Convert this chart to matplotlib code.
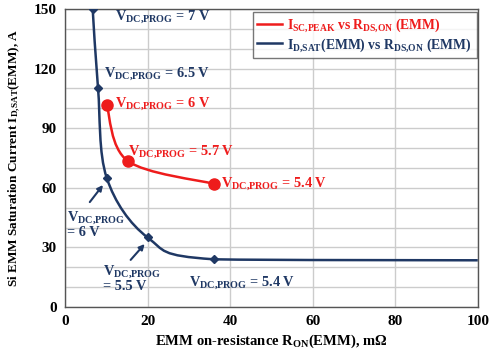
import numpy as np
import matplotlib
matplotlib.use("Agg")
import matplotlib.pyplot as plt
from matplotlib.path import Path
from matplotlib.patches import PathPatch
from matplotlib.ticker import MultipleLocator

plt.rcParams['font.family'] = ['Liberation Serif', 'DejaVu Serif']
plt.rcParams['font.weight'] = 'bold'
plt.rcParams['axes.labelweight'] = 'bold'
plt.rcParams['mathtext.fontset'] = 'custom'
plt.rcParams['mathtext.rm'] = 'Liberation Serif:bold'
plt.rcParams['mathtext.it'] = 'Liberation Serif:bold'
plt.rcParams['mathtext.bf'] = 'Liberation Serif:bold'

# data
r_sat = [6.7, 8.0, 10.1, 20.0, 36.0, 100.0]
i_sat = [150, 110, 65, 35, 24, 23.5]
r_peak = [10.1, 15.2, 36.0]
i_peak = [101.5, 73.5, 62]

RED = "#ee1c1c"
NAVY = "#1f3864"


def smooth_path(xs, ys, ax):
    # Catmull-Rom -> cubic bezier in screen space, control points kept inside
    # each segment's y range so the curve doesn't overshoot
    pts = ax.transData.transform(np.column_stack([xs, ys]))
    verts = [pts[0]]
    codes = [Path.MOVETO]
    n = len(pts)
    for i in range(n - 1):
        p0 = pts[i - 1] if i > 0 else pts[i]
        p1, p2 = pts[i], pts[i + 1]
        p3 = pts[i + 2] if i + 2 < n else pts[i + 1]
        c1 = p1 + (p2 - p0) / 6.0
        c2 = p2 - (p3 - p1) / 6.0
        lo, hi = min(p1[1], p2[1]), max(p1[1], p2[1])
        c1[1] = np.clip(c1[1], lo, hi)
        c2[1] = np.clip(c2[1], lo, hi)
        verts += [c1, c2, p2]
        codes += [Path.CURVE4] * 3
    verts = ax.transData.inverted().transform(np.array(verts))
    return Path(verts, codes)


fig = plt.figure(figsize=(4.9, 3.58), dpi=100)
ax = fig.add_axes([0.1327, 0.1425, 0.8423, 0.8325])
ax.set_xlim(0, 100)
ax.set_ylim(0, 150)
ax.xaxis.set_major_locator(MultipleLocator(20))
ax.yaxis.set_major_locator(MultipleLocator(30))
ax.yaxis.set_minor_locator(MultipleLocator(10))
ax.grid(True, which='both', color='#cccccc', lw=1.0)
ax.set_axisbelow(True)
ax.tick_params(which='both', length=0, labelsize=11, pad=6)
for s in ax.spines.values():
    s.set_color('#555555')
    s.set_linewidth(1.0)

ax.add_patch(PathPatch(smooth_path(r_sat, i_sat, ax), fc='none', ec=NAVY, lw=1.8, zorder=3))
ax.add_patch(PathPatch(smooth_path(r_peak, i_peak, ax), fc='none', ec=RED, lw=1.8, zorder=3))
ax.plot(r_sat[:-1], i_sat[:-1], ls='none', marker='D', ms=4.5, color=NAVY, zorder=4)
ax.plot(r_peak, i_peak, ls='none', marker='o', ms=8, color=RED, zorder=4)

# legend proxies
ax.plot([], [], color=RED, lw=1.8, label=r"I$_{\mathrm{SC{,}PEAK}}$ vs R$_{\mathrm{DS{,}ON}}$ (EMM)")
ax.plot([], [], color=NAVY, lw=1.8, label=r"I$_{\mathrm{D{,}SAT}}$(EMM) vs R$_{\mathrm{DS{,}ON}}$ (EMM)")
leg = ax.legend(loc='upper right', bbox_to_anchor=(0.997, 0.99), fontsize=9.8, frameon=True,
                fancybox=False, edgecolor='#555555', handlelength=1.8, handletextpad=0.4,
                borderpad=0.35, labelspacing=0.15, borderaxespad=0)
leg.get_frame().set_linewidth(1.0)
leg.texts[0].set_color(RED)
leg.texts[1].set_color(NAVY)

V = r"V$_{\mathrm{DC{,}PROG}}$"
fs = 10.4
ax.text(12.0, 146, V + " = 7 V", color=NAVY, fontsize=fs, va='center')
ax.text(9.4, 117.5, V + " = 6.5 V", color=NAVY, fontsize=fs, va='center')
ax.text(12.0, 102.5, V + " = 6 V", color=RED, fontsize=fs, va='center')
ax.text(15.2, 78, V + " = 5.7 V", color=RED, fontsize=fs, va='center')
ax.text(37.8, 62, V + " = 5.4 V", color=RED, fontsize=fs, va='center')
ax.text(30.1, 12, V + " = 5.4 V", color=NAVY, fontsize=fs, va='center')
ax.text(0.5, 41.5, V + "\n= 6 V", color=NAVY, fontsize=fs, va='center', linespacing=0.95)
ax.text(9.2, 14.5, V + "\n= 5.5 V", color=NAVY, fontsize=fs, va='center', linespacing=0.95)

arrow = dict(arrowstyle='-|>', color=NAVY, lw=1.5, shrinkA=0, shrinkB=0, mutation_scale=8)
ax.annotate("", xy=(9.2, 61.4), xytext=(6.0, 52.8), arrowprops=arrow)
ax.annotate("", xy=(19.3, 31.7), xytext=(15.9, 23.7), arrowprops=arrow)

ax.set_xlabel(r"EMM on-resistance R$_{\mathrm{ON}}$(EMM), m$\Omega$", fontsize=10.5, labelpad=3)
ax.set_ylabel(r"Si EMM Saturation Current I$_{\mathrm{D{,}SAT}}$(EMM), A", fontsize=9.5, labelpad=8)

fig.savefig("out.png", dpi=100)
